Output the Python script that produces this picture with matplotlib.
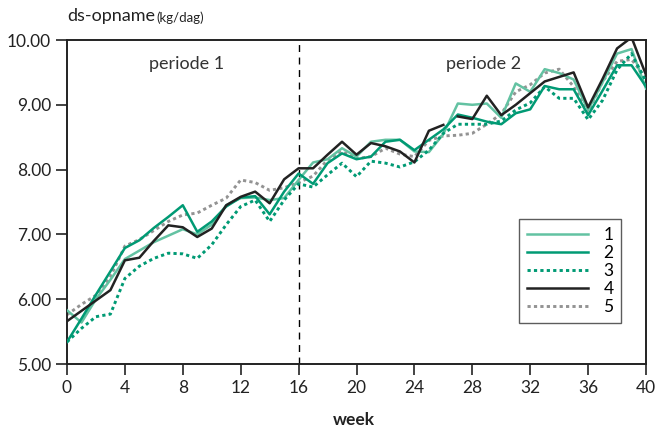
import matplotlib
matplotlib.use("Agg")
import matplotlib.pyplot as plt
import numpy as np

plt.rcParams['font.family'] = ['Lato', 'DejaVu Sans']

weeks = np.arange(0, 41)

# ds-opname per behandeling (kg/dag)
s1 = [5.83, 5.64, 6.00, 6.30, 6.62, 6.75, 6.88, 6.98, 7.08, 7.00, 7.15,
      7.45, 7.56, 7.57, 7.53, 7.56, 7.84, 8.11, 8.16, 8.33, 8.20,
      8.43, 8.46, 8.46, 8.28, 8.27, 8.55, 9.02, 9.00, 9.02, 8.80,
      9.33, 9.20, 9.55, 9.49, 9.39, 8.92, 9.35, 9.79, 9.86, 9.25]
s2 = [5.34, 5.70, 6.07, 6.43, 6.79, 6.91, 7.10, 7.27, 7.45, 7.04, 7.20,
      7.43, 7.57, 7.59, 7.31, 7.66, 7.94, 7.78, 8.10, 8.25, 8.16,
      8.20, 8.43, 8.46, 8.30, 8.46, 8.62, 8.85, 8.80, 8.74, 8.70,
      8.87, 8.93, 9.29, 9.24, 9.24, 8.84, 9.22, 9.61, 9.61, 9.28]
s3 = [5.34, 5.55, 5.73, 5.77, 6.32, 6.51, 6.63, 6.71, 6.70, 6.63, 6.84,
      7.15, 7.43, 7.53, 7.20, 7.53, 7.78, 7.73, 7.92, 8.10, 7.89,
      8.13, 8.10, 8.04, 8.12, 8.30, 8.56, 8.70, 8.70, 8.70, 8.75,
      8.92, 9.03, 9.28, 9.10, 9.10, 8.77, 9.07, 9.54, 9.79, 9.36]
s4 = [5.66, 5.82, 5.98, 6.14, 6.60, 6.64, 6.90, 7.14, 7.11, 6.96, 7.09,
      7.45, 7.58, 7.66, 7.48, 7.85, 8.02, 8.02, 8.23, 8.43, 8.23,
      8.41, 8.36, 8.28, 8.11, 8.60, 8.69, 8.82, 8.78, 9.14, 8.84,
      9.00, 9.18, 9.36, 9.43, 9.50, 8.96, 9.40, 9.87, 10.04, 9.46]
s5 = [5.76, 5.92, 6.06, 6.35, 6.82, 6.92, 7.06, 7.20, 7.30, 7.33, 7.45,
      7.56, 7.84, 7.80, 7.68, 7.72, 7.80, 7.90, 8.15, 8.28, 8.17,
      8.20, 8.33, 8.24, 8.20, 8.45, 8.52, 8.53, 8.56, 8.70, 8.86,
      9.20, 9.31, 9.49, 9.55, 9.28, 8.89, 9.36, 9.67, 9.70, 9.41]
gap4 = 27  # serie 4 onderbroken tussen week 26 en 27

fig = plt.figure(figsize=(6.58, 4.32), dpi=100)
ax = fig.add_axes([0.1018, 0.1574, 0.88, 0.75])

lw = 1.8
ax.plot(weeks, s1, color='#63c2a2', lw=lw, label='1', zorder=3)
ax.plot(weeks, s2, color='#009a74', lw=lw, label='2', zorder=4)
ax.plot(weeks, s3, color='#009a74', lw=lw + 0.3, ls=(0, (1.1, 1.1)), label='3', zorder=3)
ax.plot(weeks[:gap4], s4[:gap4], color='#222222', lw=lw, label='4', zorder=5)
ax.plot(weeks[gap4:], s4[gap4:], color='#222222', lw=lw, zorder=5)
ax.plot(weeks, s5, color='#939393', lw=lw + 0.3, ls=(0, (1.1, 1.1)), label='5', zorder=2)

ax.axvline(16, color='black', lw=1, ls=(0, (5, 4)), zorder=1)

ax.set_xlim(0, 40)
ax.set_ylim(5, 10)
ax.set_xticks(np.arange(0, 41, 4))
ax.set_yticks(np.arange(5, 10.5, 1))
ax.set_yticklabels([f'{v:.2f}' for v in np.arange(5, 10.5, 1)])
ax.tick_params(direction='out', length=8, width=1.2, labelsize=12.5, colors='#222222')
for s in ax.spines.values():
    s.set_linewidth(1.4)
    s.set_color('#222222')

ax.text(0.207, 0.925, 'periode 1', transform=ax.transAxes, ha='center', va='center',
        fontsize=13, color='#333333')
ax.text(0.72, 0.925, 'periode 2', transform=ax.transAxes, ha='center', va='center',
        fontsize=13, color='#333333')

fig.text(0.1018, 0.963, 'ds-opname', fontsize=13, color='#222222', va='center')
fig.text(0.238, 0.96, '(kg/dag)', fontsize=9.5, color='#222222', va='center')
fig.text(0.537, 0.028, 'week', fontsize=12.5, fontweight='bold', ha='center',
         va='center', color='#222222')

leg = ax.legend(loc='upper left', bbox_to_anchor=(0.781, 0.4475), borderaxespad=0,
                frameon=True, fancybox=False, edgecolor='#333333', fontsize=12.5,
                handlelength=3.5, handletextpad=0.9, borderpad=0.45,
                labelspacing=0.12)
leg.get_frame().set_linewidth(1.0)

fig.savefig('out.png', dpi=100)
